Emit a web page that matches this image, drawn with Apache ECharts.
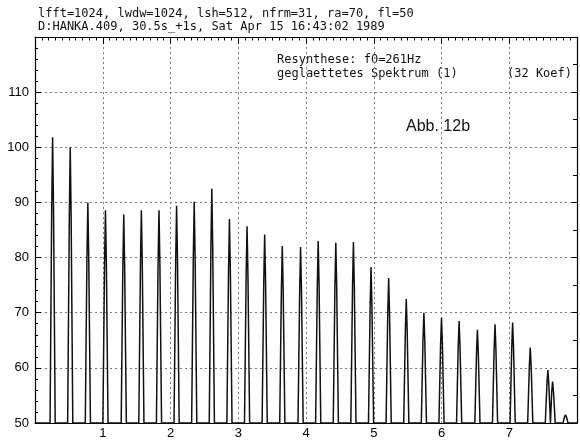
<!DOCTYPE html>
<html>
<head>
<meta charset="utf-8">
<script src="https://cdn.jsdelivr.net/npm/echarts@6/dist/echarts.min.js"></script>
<style>
html,body{margin:0;padding:0;background:#fff;}
#c{width:580px;height:441px;}
</style>
</head>
<body>
<div id="c"></div>
<script>
// Harmonic peak frequencies (kHz) and levels (dB)
const peakFreqs = [0.26, 0.52, 0.78, 1.04, 1.31, 1.57, 1.83, 2.09, 2.35, 2.61,
                   2.87, 3.13, 3.39, 3.65, 3.92, 4.18, 4.44, 4.70, 4.96, 5.22,
                   5.48, 5.74, 6.00, 6.26, 6.53, 6.79, 7.05, 7.31, 7.57, 7.64, 7.83];
const peakLevels = [101.8, 100.0, 90.0, 88.6, 87.8, 88.6, 88.6, 89.4, 90.1, 92.5,
                    87.0, 85.7, 84.2, 82.1, 81.9, 83.0, 82.7, 82.8, 78.3, 76.3,
                    72.5, 70.0, 69.1, 68.5, 66.9, 67.9, 68.2, 63.7, 59.6, 57.5, 51.5];
const floorLevel = 50;
const xTickLabels = ['1', '2', '3', '4', '5', '6', '7'];
const yTickLabels = ['50', '60', '70', '80', '90', '100', '110'];
const headerLines = [
  'lfft=1024, lwdw=1024, lsh=512, nfrm=31, ra=70, fl=50',
  'D:HANKA.409, 30.5s_+1s, Sat Apr 15 16:43:02 1989'
];
const noteLines = ['Resynthese: f0=261Hz', 'geglaettetes Spektrum (1)'];
const noteRight = '(32 Koef)';
const figLabel = 'Abb. 12b';

// build the spectrum polyline: narrow spike at each harmonic
const halfW = 0.038;
const spectrum = [[0, floorLevel]];
for (let i = 0; i < peakFreqs.length; i++) {
  const f = peakFreqs[i], h = peakLevels[i];
  spectrum.push([f - halfW, floorLevel]);
  spectrum.push([f - halfW * 0.35, h - (h - floorLevel) * 0.25]);
  spectrum.push([f, h]);
  spectrum.push([f + halfW * 0.35, h - (h - floorLevel) * 0.25]);
  spectrum.push([f + halfW, floorLevel]);
}
spectrum.push([8, floorLevel]);

const chart = echarts.init(document.getElementById('c'), null, {renderer: 'canvas'});
const mono = "'DejaVu Sans Mono', monospace";
const gridLine = {show: true, lineStyle: {color: '#7a7a7a', width: 1, type: [2, 3]}};

chart.setOption({
  animation: false,
  backgroundColor: '#fff',
  grid: {left: 35, right: 2, top: 37, bottom: 18, containLabel: false},
  xAxis: [{
    type: 'value', min: 0, max: 8, interval: 1, position: 'bottom',
    axisLine: {show: true, onZero: false, lineStyle: {color: '#000', width: 1.2}},
    axisTick: {show: false},
    axisLabel: {
      show: true, margin: 4, color: '#000', fontSize: 13,
      fontFamily: "'Liberation Sans', sans-serif",
      formatter: v => (xTickLabels.includes(String(v)) ? String(v) : '')
    },
    splitLine: gridLine
  }, {
    type: 'value', min: 0, max: 8, interval: 1, position: 'top',
    axisLine: {show: true, onZero: false, lineStyle: {color: '#000', width: 1.2}},
    axisTick: {show: true, inside: true, length: 7, lineStyle: {color: '#000'}},
    minorTick: {show: true, splitNumber: 10, length: 3.5, lineStyle: {color: '#000'}},
    axisLabel: {show: false},
    splitLine: {show: false}
  }],
  yAxis: [{
    type: 'value', min: 50, max: 120, interval: 10, position: 'left',
    axisLine: {show: true, onZero: false, lineStyle: {color: '#000', width: 1.2}},
    axisTick: {show: true, inside: true, length: 6, lineStyle: {color: '#000'}},
    minorTick: {show: true, splitNumber: 5, length: 3, lineStyle: {color: '#000'}},
    axisLabel: {
      show: true, margin: 6, color: '#000', fontSize: 13,
      fontFamily: "'Liberation Sans', sans-serif",
      formatter: v => (yTickLabels.includes(String(v)) ? String(v) : '')
    },
    splitLine: gridLine
  }, {
    type: 'value', min: 50, max: 120, interval: 10, position: 'right',
    axisLine: {show: true, onZero: false, lineStyle: {color: '#000', width: 1.2}},
    axisTick: {show: true, inside: true, length: 5, lineStyle: {color: '#000'}},
    minorTick: {show: true, splitNumber: 2, length: 4, lineStyle: {color: '#000'}},
    axisLabel: {show: false},
    splitLine: {show: false}
  }],
  series: [{
    type: 'line', xAxisIndex: 0, yAxisIndex: 0,
    data: spectrum, showSymbol: false, symbol: 'none', clip: true,
    lineStyle: {color: '#111', width: 1.5}
  }],
  graphic: [
    {type: 'text', left: 38, top: 8, style: {text: headerLines[0], font: '12px ' + mono, fill: '#111'}},
    {type: 'text', left: 38, top: 21, style: {text: headerLines[1], font: '12px ' + mono, fill: '#111'}},
    {type: 'text', left: 277, top: 54, style: {text: noteLines[0], font: '12px ' + mono, fill: '#111'}},
    {type: 'text', left: 277, top: 68, style: {text: noteLines[1], font: '12px ' + mono, fill: '#111'}},
    {type: 'text', left: 507, top: 68, style: {text: noteRight, font: '12px ' + mono, fill: '#111'}},
    {type: 'text', left: 406, top: 119, style: {text: figLabel, font: "16px 'Liberation Sans Narrow', 'Liberation Sans', sans-serif", fill: '#111'}}
  ]
});
</script>
</body>
</html>
